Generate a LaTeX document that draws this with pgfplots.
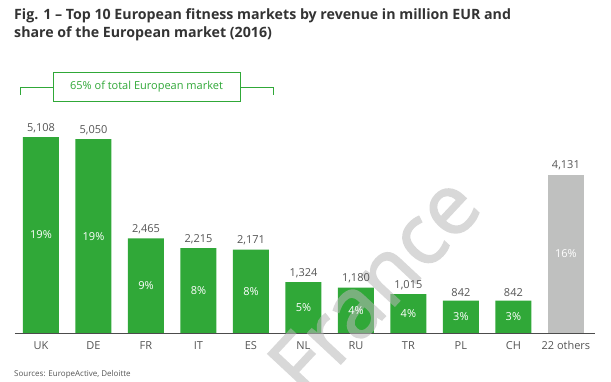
\documentclass[border=0pt]{standalone}
\usepackage{fontspec}
\setmainfont{Open Sans}
\newfontface\wmfont{Open Sans}[FakeBold=2]
\usepackage{pgfplots}
\usepackage{pgfplotstable}
\pgfplotsset{compat=1.18}
\definecolor{bargreen}{HTML}{30A838}
\definecolor{bargray}{HTML}{BFC0BF}
\definecolor{txtgray}{HTML}{555555}
\definecolor{titlegray}{HTML}{333333}
\definecolor{wmgray}{HTML}{B8B8B8}

\pgfplotstableread{
x y pct
0 5108 19
1 5050 19
2 2465 9
3 2215 8
4 2171 8
5 1324 5
6 1180 4
7 1015 4
8 842 3
9 842 3
}\greendata
\pgfplotstableread{
x y pct
10 4131 16
}\otherdata

\begin{document}
\begin{tikzpicture}
\useasboundingbox (0,0) rectangle (611pt,382pt);
\begin{axis}[
  at={(14.75pt,49pt)}, anchor=south west, scale only axis,
  width=580pt, height=230.2pt,
  xmin=-0.5, xmax=10.55, ymin=0, ymax=6000,
  axis x line=bottom, axis y line=none,
  axis line style={-, draw=black!70, line width=0.8pt},
  xtick={0,...,10},
  xticklabels={UK,DE,FR,IT,ES,NL,RU,TR,PL,CH,22 others},
  major tick length=0pt,
  xticklabel style={font=\fontsize{11}{13}\selectfont, text=txtgray, yshift=-5pt},
  clip=false,
  /pgf/number format/1000 sep={,},
  /pgf/number format/assume math mode=true,
]
\addplot[ybar, bar width=36pt, bar shift=0pt, fill=bargreen, draw=none,
  nodes near coords, point meta=y,
  every node near coord/.append style={anchor=south, yshift=1pt, text=txtgray, font=\fontsize{11}{13}\selectfont}]
  table[x=x, y=y] {\greendata};
\addplot[ybar, bar width=36pt, bar shift=0pt, fill=bargray, draw=none,
  nodes near coords, point meta=y,
  every node near coord/.append style={anchor=south, yshift=1pt, text=txtgray, font=\fontsize{11}{13}\selectfont}]
  table[x=x, y=y] {\otherdata};
\addplot[only marks, mark=none, point meta=explicit,
  nodes near coords={\pgfmathprintnumber{\pgfplotspointmeta}\%},
  nodes near coords align=center,
  every node near coord/.append style={anchor=center, text=white, font=\fontsize{11}{13}\selectfont}]
  table[x=x, y expr=\thisrow{y}/2, meta=pct] {\greendata};
\addplot[only marks, mark=none, point meta=explicit,
  nodes near coords={\pgfmathprintnumber{\pgfplotspointmeta}\%},
  nodes near coords align=center,
  every node near coord/.append style={anchor=center, text=white, font=\fontsize{11}{13}\selectfont}]
  table[x=x, y expr=\thisrow{y}/2, meta=pct] {\otherdata};
\begin{scope}[transparency group, opacity=0.55]
\node[rotate=47, text=wmgray, font=\wmfont\fontsize{84}{84}\selectfont] at (axis cs:6.34,1250) {France};
\end{scope}
\end{axis}
\node[anchor=north west, align=left, text=titlegray, font=\bfseries\fontsize{14.2}{18}\selectfont, inner sep=0pt] at (14pt,374pt)
  {Fig. 1 -- Top 10 European fitness markets by revenue in million EUR and\\share of the European market (2016)};
\draw[bargreen, line width=0.9pt] (20pt,287pt) -- (20pt,295pt) -- (273pt,295pt) -- (273pt,287pt);
\node[draw=bargreen, fill=white, line width=0.9pt, minimum width=187pt, minimum height=29pt, inner sep=0pt,
  text=bargreen, font=\fontsize{11}{13}\selectfont] at (146.5pt,295.5pt) {65\% of total European market};
\node[anchor=west, text=txtgray, font=\fontsize{8}{10}\selectfont, inner sep=0pt] at (14pt,8pt) {Sources: EuropeActive, Deloitte};
\end{tikzpicture}
\end{document}
